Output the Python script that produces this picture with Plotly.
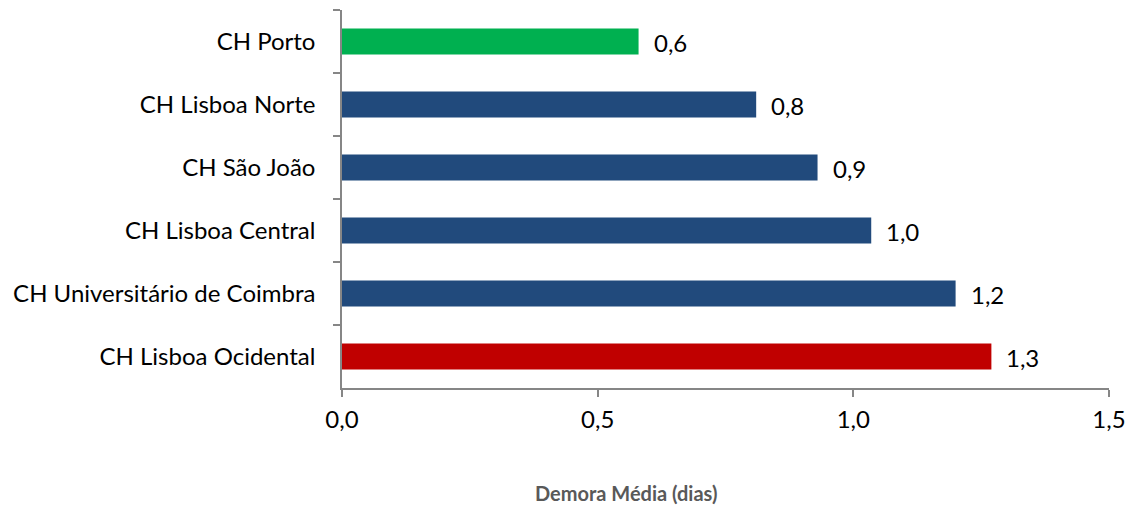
import plotly.graph_objects as go

categories = ["CH Porto", "CH Lisboa Norte", "CH São João", "CH Lisboa Central",
              "CH Universitário de Coimbra", "CH Lisboa Ocidental"]
values = [0.58, 0.81, 0.93, 1.035, 1.20, 1.27]
colors = ["#00B050", "#214A7C", "#214A7C", "#214A7C", "#214A7C", "#C00000"]
x_ticks = [0.0, 0.5, 1.0, 1.5]
x_title = "Demora Média (dias)"

FONT = "Lato"

fig = go.Figure()
fig.add_trace(go.Bar(
    y=categories, x=values, orientation="h",
    marker=dict(color=colors, line=dict(width=0)),
    width=0.41, hoverinfo="skip",
))

for c, v in zip(categories, values):
    fig.add_annotation(x=v, y=c, text=f"{v:.1f}".replace(".", ","),
                       showarrow=False, xanchor="left", xshift=13, yshift=-1,
                       font=dict(family=FONT, size=24, color="#000000"))

fig.add_annotation(x=0.370, y=-0.314, xref="paper", yref="paper",
                   text=f"<b>{x_title}</b>", showarrow=False,
                   font=dict(family=FONT, size=20, color="#595959"))

# page body has an 8px margin; compensate so the plot lands where the reference has it
fig.update_layout(
    width=1118, height=501,
    margin=dict(l=334, r=17, t=2, b=121),
    paper_bgcolor="white", plot_bgcolor="white",
    separators=",.",
    showlegend=False,
    font=dict(family=FONT, size=24, color="#000000"),
)
fig.update_xaxes(range=[0, 1.5], tickvals=x_ticks, tickformat=".1f",
                 showgrid=False, zeroline=False, automargin=False,
                 showline=True, linecolor="#868686", linewidth=1.5,
                 ticks="outside", ticklen=7, tickcolor="#868686", tickwidth=1.5,
                 tickfont=dict(family=FONT, size=24, color="#000000"),
                 ticklabelstandoff=2)
fig.update_yaxes(autorange="reversed", type="category", tickson="boundaries",
                 showgrid=False, zeroline=False, automargin=False,
                 showline=True, linecolor="#868686", linewidth=1.5,
                 ticks="outside", ticklen=7, tickcolor="#868686", tickwidth=1.5,
                 tickfont=dict(family=FONT, size=24, color="#000000"),
                 ticklabelstandoff=20)

fig.write_html("out.html")
